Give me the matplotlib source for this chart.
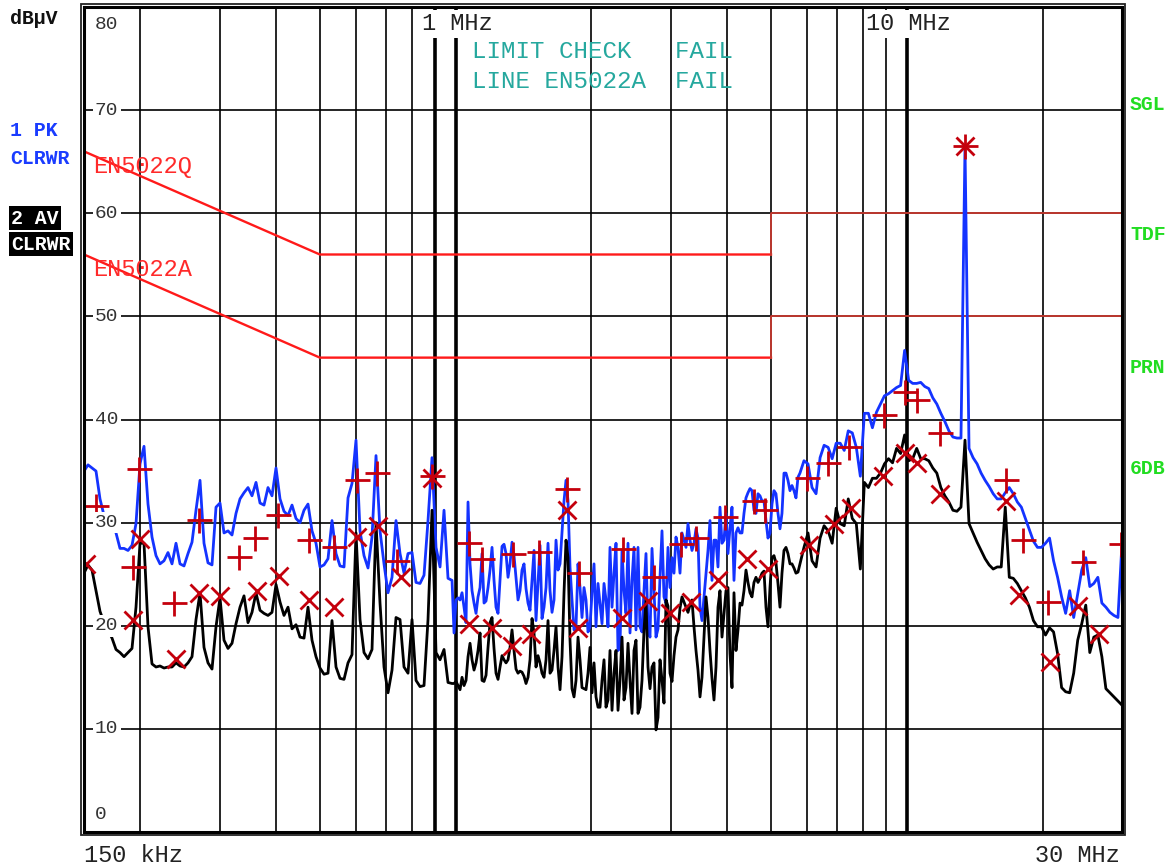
import numpy as np
import matplotlib
matplotlib.use("Agg")
import matplotlib.pyplot as plt
from matplotlib.patches import Rectangle
from matplotlib.transforms import blended_transform_factory

# ---------------- data ----------------
f_start, f_stop = 0.15, 30.0      # MHz, display range
# sweep segments (start MHz, stop MHz, points), log spaced
sweep_segments = [(0.15, 0.9617, 92), (0.9816, 5.739, 174), (5.797, 30.0, 81)]

peak_trace = [
    # 0.15 - 0.96 MHz
    35.0, 35.6, 35.3, 35.0, 32.3, 30.7, 30.4, 30.2, 29.0, 27.5,
    27.5, 27.3, 27.8, 29.9, 35.7, 37.4, 31.8, 28.6, 26.8, 26.0,
    26.3, 27.1, 26.0, 28.0, 26.0, 25.8, 27.0, 28.1, 31.2, 34.1,
    28.0, 26.1, 25.9, 31.5, 31.9, 29.0, 29.2, 28.8, 30.9, 32.3,
    32.9, 33.4, 32.6, 33.9, 31.9, 31.7, 33.4, 32.6, 35.3, 32.3,
    31.1, 30.7, 31.7, 30.4, 30.0, 31.2, 31.8, 29.2, 28.0, 25.7,
    25.9, 26.5, 30.2, 27.0, 25.8, 25.7, 32.4, 33.8, 38.0, 29.2,
    26.8, 25.6, 28.6, 36.5, 29.2, 26.0, 23.2, 24.7, 30.2, 27.0,
    25.1, 27.0, 27.1, 24.2, 24.1, 24.9, 30.2, 36.3, 27.6, 25.7,
    31.2, 24.6,
    # 0.98 - 5.7 MHz
    24.4, 19.3, 22.5, 22.7, 22.5, 23.2, 21.8, 20.3, 32.0, 26.0,
    23.4, 22.2, 21.2, 22.8, 23.7, 27.0, 22.2, 22.4, 23.7, 25.4,
    27.6, 24.4, 21.8, 21.2, 24.4, 27.7, 27.9, 27.0, 24.7, 26.0,
    28.1, 26.8, 24.7, 22.5, 23.4, 25.4, 26.0, 23.6, 22.2, 21.5,
    24.4, 27.3, 20.5, 24.1, 27.8, 20.7, 21.8, 23.7, 28.0, 23.4,
    21.3, 22.5, 28.3, 25.4, 26.0, 29.0, 32.1, 34.1, 32.1, 25.7,
    22.5, 19.6, 19.9, 26.0, 23.7, 20.8, 23.7, 22.5, 19.4, 19.9,
    23.2, 26.0, 19.9, 24.1, 22.2, 20.2, 24.1, 22.5, 19.9, 27.6,
    21.8, 25.1, 28.0, 17.6, 17.9, 27.3, 23.4, 21.2, 28.0, 19.3,
    24.4, 27.6, 19.6, 27.6, 19.9, 19.4, 23.4, 27.0, 19.7, 18.9,
    27.5, 23.4, 18.9, 19.7, 24.7, 29.2, 22.8, 22.2, 27.6, 23.7,
    26.6, 25.1, 28.6, 27.6, 25.1, 29.0, 28.3, 27.6, 29.9, 28.3,
    27.3, 28.0, 29.4, 28.5, 21.8, 20.5, 22.8, 25.1, 27.3, 30.2,
    24.4, 28.3, 28.3, 25.7, 31.5, 28.0, 28.3, 30.9, 27.0, 29.5,
    31.5, 24.4, 29.0, 29.5, 29.0, 29.0, 30.9, 32.4, 32.9, 33.3,
    33.1, 31.2, 30.9, 32.8, 32.6, 32.1, 32.1, 30.2, 28.5, 29.0,
    31.8, 33.1, 32.8, 30.9, 29.4, 30.9, 34.8, 34.8, 34.1, 33.1,
    33.6, 33.1, 32.4, 34.4,
    # 5.8 - 30 MHz
    34.8, 36.0, 35.7, 33.4, 32.8, 36.3, 37.5, 37.3, 36.2, 37.7,
    37.7, 37.0, 38.9, 38.7, 37.3, 34.5, 40.6, 40.6, 39.2, 40.7,
    41.5, 42.3, 42.5, 42.8, 43.1, 43.3, 46.7, 43.8, 43.5, 43.5,
    43.6, 43.2, 43.0, 42.1, 41.5, 40.6, 39.8, 38.9, 38.3, 38.2,
    38.2, 66.5, 37.2, 36.3, 35.7, 34.8, 34.1, 33.5, 32.8, 32.3,
    32.3, 32.9, 33.4, 32.8, 32.0, 31.5, 30.4, 29.3, 28.2, 27.6,
    27.6, 28.0, 28.5, 26.3, 24.7, 22.8, 21.2, 23.4, 20.8, 23.1,
    25.4, 26.6, 23.8, 24.1, 24.7, 22.2, 21.8, 21.3, 21.0, 20.8,
    28.0,
]

avg_trace = [
    # 0.15 - 0.96 MHz
    25.1, 25.9, 25.4, 23.4, 21.4, 20.3, 19.6, 18.8, 17.7, 17.4,
    17.0, 17.4, 17.8, 21.8, 28.0, 28.0, 19.9, 16.3, 16.0, 16.1,
    15.9, 16.0, 16.0, 16.4, 16.1, 16.0, 16.4, 17.0, 20.6, 23.2,
    17.9, 16.4, 15.8, 19.9, 22.7, 18.6, 17.8, 18.3, 20.2, 21.8,
    22.9, 20.3, 21.3, 23.2, 21.5, 21.2, 21.0, 21.3, 24.0, 22.3,
    21.0, 21.8, 19.7, 20.1, 18.9, 18.8, 21.8, 18.6, 17.0, 15.9,
    15.3, 15.4, 20.5, 16.0, 14.9, 14.8, 16.4, 17.2, 29.0, 20.6,
    17.4, 16.8, 17.7, 30.0, 22.2, 16.0, 13.5, 15.7, 20.8, 20.6,
    16.0, 15.4, 20.6, 14.7, 14.1, 14.2, 20.6, 31.2, 17.4, 16.7,
    17.7, 14.5,
    # 0.98 - 5.7 MHz
    14.4, 14.4, 14.6, 14.2, 13.8, 15.0, 14.2, 14.7, 17.0, 18.3,
    16.7, 15.7, 16.4, 17.6, 19.3, 14.7, 14.6, 15.2, 17.9, 20.3,
    20.8, 17.8, 15.4, 14.8, 16.0, 17.1, 16.7, 16.4, 16.7, 17.9,
    19.6, 17.6, 15.8, 15.4, 15.6, 15.5, 15.1, 14.4, 15.0, 16.7,
    20.7, 19.3, 16.0, 17.1, 16.4, 15.4, 15.0, 16.7, 20.5, 15.4,
    15.7, 17.6, 19.9, 16.0, 13.8, 17.0, 23.2, 28.3, 26.6, 18.6,
    13.9, 13.1, 14.7, 18.9, 16.7, 14.0, 13.9, 13.8, 15.4, 17.9,
    13.5, 16.4, 13.1, 12.1, 12.1, 14.7, 16.7, 12.1, 12.8, 17.6,
    11.8, 15.4, 17.6, 11.8, 14.7, 18.9, 12.8, 14.0, 18.3, 14.7,
    11.5, 17.6, 18.6, 11.5, 12.1, 14.7, 19.6, 22.5, 16.0, 13.9,
    16.0, 16.4, 9.9, 11.1, 16.7, 14.7, 12.5, 22.5, 21.9, 15.4,
    14.6, 17.1, 18.9, 19.6, 21.7, 22.8, 22.3, 21.8, 21.3, 22.0,
    22.5, 19.9, 17.6, 15.7, 13.1, 15.0, 18.9, 22.8, 20.8, 17.6,
    14.9, 12.8, 16.0, 21.8, 23.4, 18.9, 21.2, 23.4, 23.7, 17.3,
    14.0, 23.2, 17.6, 19.6, 22.2, 22.0, 23.4, 25.4, 24.2, 23.2,
    22.8, 24.2, 24.7, 24.2, 24.6, 25.1, 25.3, 21.8, 19.9, 23.7,
    26.6, 26.8, 26.1, 24.1, 21.8, 25.1, 27.3, 27.6, 27.0, 26.0,
    26.0, 25.6, 25.1, 25.2,
    # 5.8 - 30 MHz
    26.0, 27.6, 29.0, 26.3, 25.7, 28.5, 29.7, 29.2, 28.0, 31.4,
    29.9, 29.7, 32.3, 30.4, 29.9, 25.5, 33.9, 33.4, 34.3, 34.3,
    34.8, 35.7, 36.2, 35.8, 37.2, 36.7, 38.5, 36.0, 36.2, 37.2,
    36.2, 36.2, 36.0, 35.3, 34.8, 33.4, 32.6, 32.0, 31.2, 31.1,
    31.5, 38.0, 29.9, 29.0, 28.1, 27.3, 26.5, 25.9, 25.5, 25.7,
    25.7, 31.5, 24.7, 24.6, 24.1, 23.4, 22.7, 21.8, 20.5, 19.9,
    19.9, 19.1, 19.8, 19.4, 17.3, 14.0, 13.6, 13.5, 15.4, 18.6,
    20.2, 22.0, 17.4, 18.9, 19.1, 17.0, 13.9, 13.5, 13.1, 12.7,
    12.3,
]

peak_marker_freq = [0.1595, 0.1926, 0.1986, 0.2375, 0.2697, 0.3309, 0.3591,
                    0.4038, 0.4731, 0.5375, 0.6045, 0.6693, 0.7413, 0.8862,
                    1.0705, 1.144, 1.340, 1.530, 1.766, 1.877, 2.349, 2.753,
                    3.159, 3.411, 3.954, 4.587, 4.850, 6.011, 6.690, 7.448,
                    8.904, 9.911, 10.53, 11.85, 13.46, 16.59, 18.09, 20.56,
                    24.58, 29.85]
peak_marker_level = [31.6, 25.7, 35.2, 22.2, 30.3, 26.7, 28.5,
                     30.7, 28.3, 27.6, 34.1, 34.8, 26.3, 34.5,
                     28.0, 26.5, 27.0, 27.2, 33.3, 25.1, 27.4, 24.7,
                     27.9, 28.5, 30.5, 32.1, 31.2, 34.3, 35.8, 37.3,
                     40.4, 42.7, 41.9, 38.7, 66.5, 34.1, 28.3, 22.3,
                     26.2, 27.9]

avg_marker_freq = [0.1515, 0.1926, 0.1997, 0.2399, 0.2697, 0.3003, 0.3627,
                   0.4059, 0.4731, 0.5375, 0.6045, 0.6727, 0.7565, 0.8862,
                   1.0705, 1.204, 1.333, 1.469, 1.766, 1.867, 2.337, 2.670,
                   2.986, 3.324, 3.816, 4.424, 4.926, 6.072, 6.897, 7.523,
                   8.858, 9.911, 10.53, 11.85, 13.46, 16.59, 17.73, 20.78,
                   23.97, 26.67]
avg_marker_level = [26.0, 20.6, 28.4, 16.8, 23.2, 22.9, 23.4,
                    24.8, 22.5, 21.8, 28.6, 29.7, 24.7, 34.3,
                    20.2, 19.8, 18.0, 19.2, 31.2, 19.8, 20.8, 22.4,
                    21.2, 22.3, 24.4, 26.5, 25.5, 27.8, 29.9, 31.4,
                    34.5, 36.8, 35.8, 32.8, 66.5, 32.1, 23.0, 16.5,
                    21.9, 19.2]

limit_freq = [0.15, 0.5, 5.0]
limit_freq_hi = [5.0, 5.0, 30.0]
limit_q_level = [66, 56, 56]
limit_q_level_hi = [56, 60, 60]
limit_a_level = [56, 46, 46]
limit_a_level_hi = [46, 50, 50]

y_levels = [0, 10, 20, 30, 40, 50, 60, 70, 80]
x_grid = [0.2, 0.3, 0.4, 0.5, 0.6, 0.7, 0.8, 2, 3, 4, 5, 6, 7, 8, 9, 20]
x_grid_bold = [0.9, 1.0, 10.0]

# ---------------- figure ----------------
W, H = 1174, 866
fig = plt.figure(figsize=(W / 100, H / 100), dpi=100)
fig.patch.set_facecolor("white")

L, R, T, B = 84, 1122, 7, 832
ax = fig.add_axes([L / W, (H - B) / H, (R - L) / W, (B - T) / H])
ax.set_xscale("log")
ax.set_xlim(f_start, f_stop)
ax.set_ylim(0, 80)
ax.set_xticks([])
ax.set_yticks([])
ax.xaxis.set_minor_locator(matplotlib.ticker.NullLocator())
for s in ax.spines.values():
    s.set_linewidth(2.2)
    s.set_color("black")
    s.set_zorder(10)

# outer frame line (double border)
fig.patches.append(Rectangle(((L - 3) / W, (H - B - 3) / H), (R - L + 6) / W,
                             (B - T + 6) / H, transform=fig.transFigure,
                             fill=False, lw=1.3, ec="#222222"))

for v in y_levels[1:-1]:
    ax.axhline(v, color="black", lw=1.2, zorder=1)
for f in x_grid:
    ax.axvline(f, color="black", lw=1.2, zorder=1)
for f in x_grid_bold:
    ax.axvline(f, color="black", lw=2.6, zorder=1)

# limit lines
ax.plot(limit_freq, limit_q_level, color="#ff1a1a", lw=1.7, zorder=2)
ax.plot(limit_freq, limit_a_level, color="#ff1a1a", lw=1.7, zorder=2)
ax.plot(limit_freq_hi, limit_q_level_hi, color="#c83a30", lw=1.3, zorder=2)
ax.plot(limit_freq_hi, limit_a_level_hi, color="#c83a30", lw=1.3, zorder=2)

# traces
freq = np.concatenate([np.geomspace(a, b, n) for a, b, n in sweep_segments])
ax.plot(freq, peak_trace, color="#1433ff", lw=2.0, zorder=3)
ax.plot(freq, avg_trace, color="black", lw=2.0, zorder=4)

# final measurement markers
ax.plot(peak_marker_freq, peak_marker_level, ls="none", marker="+", ms=18,
        mew=2.0, color="#c4000c", zorder=5)
ax.plot(avg_marker_freq, avg_marker_level, ls="none", marker="x", ms=13.5,
        mew=2.0, color="#c4000c", zorder=5)

mono = "Liberation Mono"
trans = blended_transform_factory(ax.transAxes, ax.transData)

# y level labels inside the plot
for v in y_levels:
    yv = v
    if v == 80:
        yv = 78.35
    elif v == 0:
        yv = 1.65
    ax.text(0.0105, yv, str(v), transform=trans, va="center", ha="left",
            fontsize=14, family=mono, color="#333333", zorder=6,
            bbox=dict(boxstyle="square,pad=0.12", fc="white", ec="none"))


def ftext(x, y, s, **kw):
    return fig.text(x / W, 1 - y / H, s, **kw)


# frequency labels
ftext(422, 24, "1 MHz", fontsize=17, family=mono, color="#222222", va="center",
      ha="left", zorder=7,
      bbox=dict(boxstyle="square,pad=0.1", fc="white", ec="none"))
ftext(866, 24, "10 MHz", fontsize=17, family=mono, color="#222222", va="center",
      ha="left", zorder=7,
      bbox=dict(boxstyle="square,pad=0.1", fc="white", ec="none"))
ftext(84, 855, "150 kHz", fontsize=17, family=mono, color="#222222", va="center",
      ha="left")
ftext(1120, 855, "30 MHz", fontsize=17, family=mono, color="#222222",
      va="center", ha="right")

# limit check texts
ftext(472, 52, "LIMIT CHECK   FAIL", fontsize=17.4, family=mono,
      color="#25a89e", va="center", ha="left")
ftext(472, 82, "LINE EN5022A  FAIL", fontsize=17.4, family=mono,
      color="#25a89e", va="center", ha="left")

# limit line names
ftext(93, 167, "EN5022Q", fontsize=17, family=mono, color="#ff2a2a",
      va="center", ha="left")
ftext(93, 270, "EN5022A", fontsize=17, family=mono, color="#ff2a2a",
      va="center", ha="left")

# left side annotations
bold_size = 14.3
ftext(10, 19, "dBµV", fontsize=bold_size, family=mono, weight="bold",
      color="#111111", va="center", ha="left")
ftext(10, 131, "1 PK", fontsize=bold_size, family=mono, weight="bold",
      color="#1a3cff", va="center", ha="left")
ftext(10, 158, "CLRWR", fontsize=bold_size, family=mono, weight="bold",
      color="#1a3cff", va="center", ha="left")
ftext(11, 218, "2 AV", fontsize=bold_size, family=mono, weight="bold",
      color="white", va="center", ha="left",
      bbox=dict(boxstyle="square,pad=0.12", fc="black", ec="none"))
ftext(11, 244, "CLRWR", fontsize=bold_size, family=mono, weight="bold",
      color="white", va="center", ha="left",
      bbox=dict(boxstyle="square,pad=0.12", fc="black", ec="none"))

# right side annotations
for yy, s in [(104, "SGL"), (235, "TDF"), (367, "PRN"), (468, "6DB")]:
    ftext(1130, yy, s, fontsize=bold_size, family=mono, weight="bold",
          color="#22dd22", va="center", ha="left")

fig.savefig("out.png", dpi=100, facecolor="white")
